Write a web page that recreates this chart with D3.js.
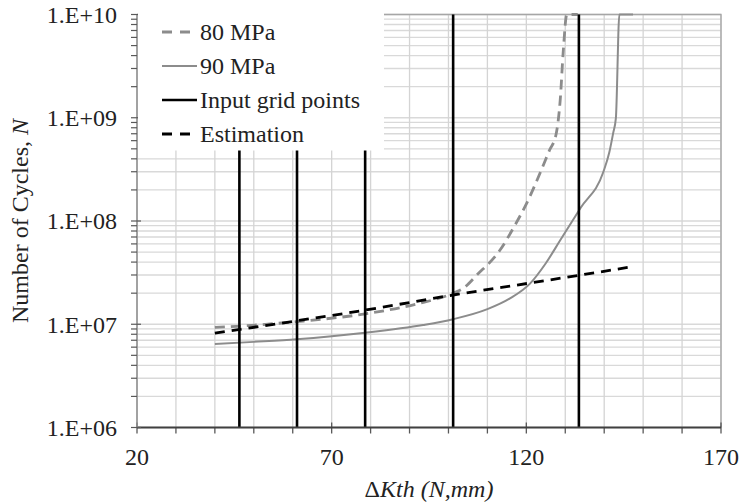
<!DOCTYPE html>
<html>
<head>
<meta charset="utf-8">
<script src="https://cdn.jsdelivr.net/npm/d3@7"></script>
<style>
  body { margin: 0; background: #fff; }
  text { font-family: "Liberation Serif", serif; }
</style>
</head>
<body>
<svg id="chart" width="741" height="503" font-family="Liberation Serif"></svg>
<script>
// Chart data
const xTickLabels = [20, 70, 120, 170];
const yTickLabels = ['1.E+06', '1.E+07', '1.E+08', '1.E+09', '1.E+10'];
const yTickValues = [1e6, 1e7, 1e8, 1e9, 1e10];

const kth80 = [40, 45.6, 61, 78.6, 91.8, 101.2, 103.8, 107.3, 113.2, 117, 120.5, 123.5, 126, 127.6, 128.7, 129.5, 130.4, 133.2];
const cycles80 = [9.33e6, 9.55e6, 1.06e7, 1.26e7, 1.57e7, 2.0e7, 2.23e7, 3.0e7, 5.2e7, 9e7, 1.6e8, 2.9e8, 4.9e8, 6.8e8, 1.48e9, 4.5e9, 1e10, 1e10];

const kth90 = [40, 50, 61, 70, 78.6, 93.5, 101.2, 110, 115.8, 121, 125, 128.7, 134, 139.8, 141.3, 142.3, 143, 143.9, 147.4];
const cycles90 = [6.44e6, 6.75e6, 7.15e6, 7.65e6, 8.28e6, 9.84e6, 1.12e7, 1.4e7, 1.78e7, 2.49e7, 3.9e7, 6.5e7, 1.35e8, 3.0e8, 4.6e8, 7.1e8, 9.9e8, 1e10, 1e10];

const gridPointsKth = [46.3, 61.1, 78.6, 101.2, 133.5];

const kthEst = [40, 61, 78.6, 101.2, 120.7, 134, 147.1];
const cyclesEst = [8.2e6, 1.08e7, 1.37e7, 1.92e7, 2.5e7, 3.0e7, 3.6e7];

const legendLabels = ['80 MPa', '90 MPa', 'Input grid points', 'Estimation'];

// Set up SVG dimensions
const svg = d3.select('#chart');
const width = 741;
const height = 503;
const margin = { top: 14.5, right: 20, bottom: 75.5, left: 137 };

// Create scales
const xScale = d3.scaleLinear()
  .domain([20, 170])
  .range([margin.left, width - margin.right]);

const yScale = d3.scaleLog()
  .domain([1e6, 1e10])
  .range([height - margin.bottom, margin.top]);

const x0 = xScale.range()[0], x1 = xScale.range()[1];
const yB = yScale.range()[0], yT = yScale.range()[1];

// Minor values
const xMinor = d3.range(20, 171, 10);
const yMinor = [];
yTickValues.slice(0, -1).forEach(d => {
  for (let k = 1; k < 10; k++) yMinor.push(d * k);
});
yMinor.push(1e10);

// Gridlines
svg.append('g')
  .selectAll('line')
  .data(yMinor)
  .join('line')
  .attr('x1', x0).attr('x2', x1)
  .attr('y1', d => yScale(d)).attr('y2', d => yScale(d))
  .attr('stroke', '#d9d9d9')
  .attr('stroke-width', 1.3);

svg.append('g')
  .selectAll('line')
  .data(xMinor)
  .join('line')
  .attr('x1', d => xScale(d)).attr('x2', d => xScale(d))
  .attr('y1', yT).attr('y2', yB)
  .attr('stroke', '#d4d4d4')
  .attr('stroke-width', 1.3);

// Plot border (top/right)
svg.append('path')
  .attr('d', `M${x0},${yT}H${x1}V${yB}`)
  .attr('fill', 'none')
  .attr('stroke', '#a6a6a6')
  .attr('stroke-width', 1.3);

// Line generator
const line = d3.line()
  .x(d => xScale(d[0]))
  .y(d => yScale(d[1]))
  .curve(d3.curveMonotoneX);

// Series
svg.append('path')
  .datum(d3.zip(kth90, cycles90))
  .attr('d', line)
  .attr('fill', 'none')
  .attr('stroke', '#8c8c8c')
  .attr('stroke-width', 2);

svg.append('path')
  .datum(d3.zip(kth80, cycles80))
  .attr('d', line)
  .attr('fill', 'none')
  .attr('stroke', '#8c8c8c')
  .attr('stroke-width', 2.8)
  .attr('stroke-dasharray', '10,6');

svg.append('path')
  .datum(d3.zip(kthEst, cyclesEst))
  .attr('d', line)
  .attr('fill', 'none')
  .attr('stroke', '#000')
  .attr('stroke-width', 2.8)
  .attr('stroke-dasharray', '10,7');

// Input grid points (vertical lines)
svg.append('g')
  .selectAll('line')
  .data(gridPointsKth)
  .join('line')
  .attr('x1', d => xScale(d)).attr('x2', d => xScale(d))
  .attr('y1', yT).attr('y2', yB)
  .attr('stroke', '#000')
  .attr('stroke-width', 2.6);

// Axes
const xAxis = svg.append('g')
  .attr('transform', `translate(0, ${yB})`);
xAxis.selectAll('line.minor')
  .data(xMinor)
  .join('line')
  .attr('x1', d => xScale(d)).attr('x2', d => xScale(d))
  .attr('y1', d => xTickLabels.includes(d) ? -5 : 0)
  .attr('y2', 6)
  .attr('stroke', '#595959')
  .attr('stroke-width', 1.3);
xAxis.append('line')
  .attr('x1', x0).attr('x2', x1)
  .attr('stroke', '#404040')
  .attr('stroke-width', 2);
xAxis.selectAll('text')
  .data(xTickLabels)
  .join('text')
  .attr('x', d => xScale(d))
  .attr('y', 37)
  .attr('text-anchor', 'middle')
  .attr('font-size', 24)
  .attr('fill', '#222')
  .text(d => d);

const yAxis = svg.append('g')
  .attr('transform', `translate(${x0}, 0)`);
yAxis.append('line')
  .attr('y1', yT).attr('y2', yB)
  .attr('stroke', '#8c8c8c')
  .attr('stroke-width', 1.5);
yAxis.selectAll('line.tick')
  .data(yMinor)
  .join('line')
  .attr('x1', -6)
  .attr('x2', d => yTickValues.includes(d) ? 4 : 0)
  .attr('y1', d => yScale(d)).attr('y2', d => yScale(d))
  .attr('stroke', '#595959')
  .attr('stroke-width', 1.2);
yAxis.selectAll('text')
  .data(yTickValues)
  .join('text')
  .attr('x', -20)
  .attr('y', d => yScale(d))
  .attr('dy', '0.35em')
  .attr('text-anchor', 'end')
  .attr('font-size', 24)
  .attr('fill', '#222')
  .text((d, i) => yTickLabels[i]);

// Axis titles
const xTitle = svg.append('text')
  .attr('x', (x0 + x1) / 2)
  .attr('y', 497)
  .attr('text-anchor', 'middle')
  .attr('font-size', 24)
  .attr('fill', '#222');
xTitle.append('tspan').text('\u0394');
xTitle.append('tspan').attr('font-style', 'italic').text('Kth (N,mm)');

const yTitle = svg.append('text')
  .attr('transform', `translate(28, ${(yT + yB) / 2}) rotate(-90)`)
  .attr('text-anchor', 'middle')
  .attr('font-size', 24)
  .attr('fill', '#222');
yTitle.append('tspan').text('Number of Cycles, ');
yTitle.append('tspan').attr('font-style', 'italic').text('N');

// Legend
const legend = svg.append('g');
legend.append('rect')
  .attr('x', x0 + 1).attr('y', yT - 4)
  .attr('width', 246).attr('height', 140)
  .attr('fill', '#fff');

const legendStyles = [
  { stroke: '#8c8c8c', width: 2.8, dash: '10,8' },
  { stroke: '#8c8c8c', width: 2, dash: null },
  { stroke: '#000', width: 2.6, dash: null },
  { stroke: '#000', width: 2.8, dash: '10,8' }
];
legendLabels.forEach((label, i) => {
  const cy = 32 + i * 34;
  const s = legendStyles[i];
  legend.append('line')
    .attr('x1', 162).attr('x2', 197)
    .attr('y1', cy).attr('y2', cy)
    .attr('stroke', s.stroke)
    .attr('stroke-width', s.width)
    .attr('stroke-dasharray', s.dash);
  legend.append('text')
    .attr('x', 200)
    .attr('y', cy)
    .attr('dy', '0.35em')
    .attr('font-size', 24)
    .attr('fill', '#222')
    .text(label);
});
</script>
</body>
</html>
